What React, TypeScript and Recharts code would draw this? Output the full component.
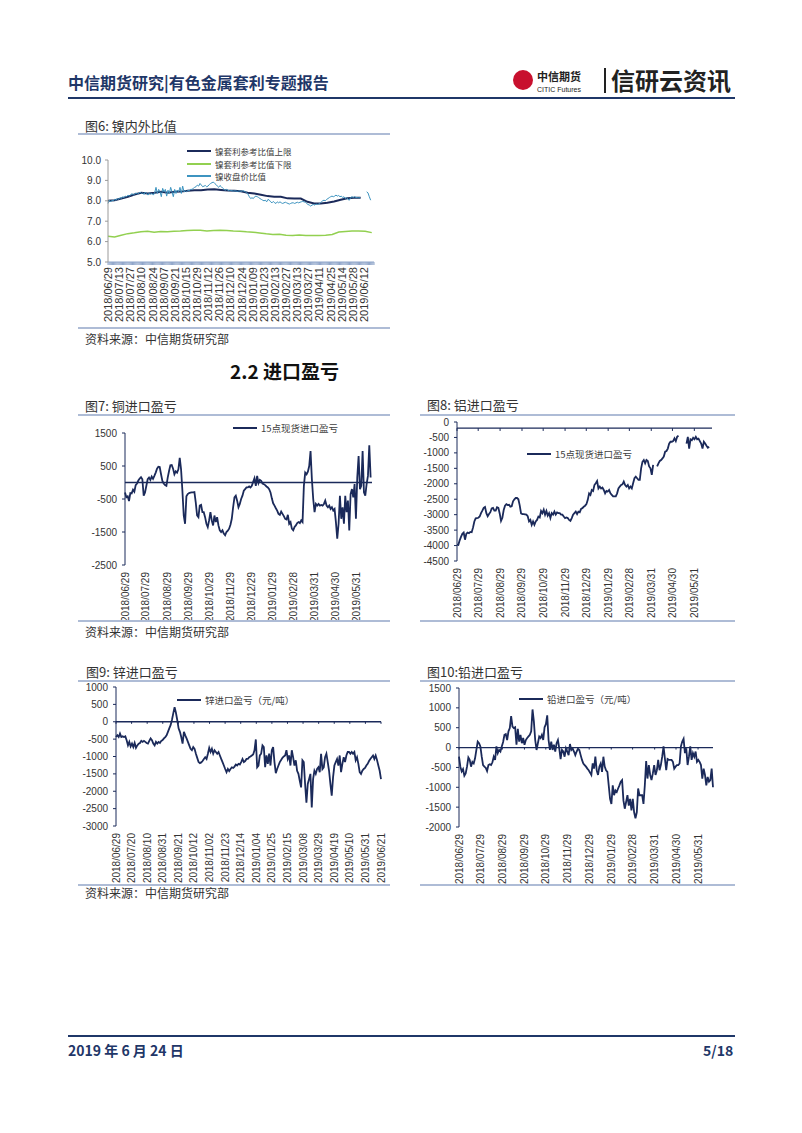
import { LineChart, Line, XAxis, YAxis, ReferenceLine } from 'recharts';

const NAVY = '#1b2a5a';
const HEAD = '#1f3768';
const TEXT = '#333333';
const RULE = '#aebcd6';
const TEAL = '#3d94c0';
const GREEN = '#92d050';
const CN = '"Noto Sans CJK SC", "Liberation Sans", sans-serif';
const NUM = '"Liberation Sans", Arial, sans-serif';

// tick labels
const MONTH_TICKS = ['2018/06/29', '2018/07/29', '2018/08/29', '2018/09/29', '2018/10/29', '2018/11/29', '2018/12/29', '2019/01/29', '2019/02/28', '2019/03/31', '2019/04/30', '2019/05/31'];
const ZN_TICKS = ['2018/06/29', '2018/07/20', '2018/08/10', '2018/08/31', '2018/09/21', '2018/10/12', '2018/11/02', '2018/11/23', '2018/12/14', '2019/01/04', '2019/01/25', '2019/02/15', '2019/03/08', '2019/03/29', '2019/04/19', '2019/05/10', '2019/05/31', '2019/06/21'];
const NI_TICKS = ['2018/06/29', '2018/07/13', '2018/07/27', '2018/08/10', '2018/08/24', '2018/09/07', '2018/09/21', '2018/10/15', '2018/10/29', '2018/11/12', '2018/11/26', '2018/12/10', '2018/12/24', '2019/01/09', '2019/01/23', '2019/02/13', '2019/02/27', '2019/03/13', '2019/03/27', '2019/04/11', '2019/04/25', '2019/05/14', '2019/05/28', '2019/06/12'];

// 镍: trading-day series
const NI_UP = [8.0, 8.03, 8.11, 8.2, 8.31, 8.39, 8.36, 8.39, 8.44, 8.4, 8.44, 8.45, 8.49, 8.52, 8.52, 8.55, 8.56, 8.53, 8.5, 8.49, 8.47, 8.4, 8.36, 8.3, 8.23, 8.2, 8.2, 8.12, 8.11, 8.11, 7.95, 7.87, 7.87, 7.9, 7.97, 8.05, 8.12, 8.15, 8.15];
const NI_LO = [6.26, 6.23, 6.31, 6.39, 6.43, 6.48, 6.51, 6.46, 6.49, 6.48, 6.51, 6.52, 6.54, 6.56, 6.56, 6.52, 6.54, 6.56, 6.54, 6.52, 6.51, 6.48, 6.46, 6.42, 6.38, 6.35, 6.36, 6.31, 6.3, 6.32, 6.3, 6.3, 6.3, 6.31, 6.35, 6.47, 6.5, 6.52, 6.52, 6.51, 6.44];
const NI_CLOSE: (number | null)[] = [
  7.87, 8.03, 7.95, 8.03, 8.0, 8.07, 8.03, 8.11, 8.07, 8.16,
  8.11, 8.2, 8.15, 8.23, 8.2, 8.28, 8.23, 8.28, 8.36, 8.28,
  8.33, 8.39, 8.33, 8.36, 8.43, 8.36, 8.39, 8.31, 8.43, 8.36,
  8.28, 8.39, 8.33, 8.36, 8.28, 8.39, 8.66, 8.36, 8.56, 8.44,
  8.2, 8.61, 8.44, 8.56, 8.23, 8.52, 8.36, 8.66, 8.44, 8.2,
  8.56, 8.36, 8.52, 8.44, 8.66, 8.36, 8.72, 8.44, 8.49, 8.44,
  8.52, 8.49, 8.56, 8.56, 8.61, 8.66, 8.69, 8.77, 8.72, 8.85,
  8.77, 8.69, 8.72, 8.75, 8.69, 8.72, 8.8, 8.85, 8.89, 8.92,
  8.85, 8.8, 8.72, 8.66, 8.75, 8.69, 8.62, 8.56, 8.52, 8.56,
  8.52, 8.49, 8.51, 8.49, 8.48, 8.49, 8.48, 8.46, 8.48, 8.49,
  8.46, 8.49, 8.48, 8.44, 8.39, 8.33, 8.2, 8.11, 8.15, 8.11,
  8.2, 8.23, 8.2, 8.16, 8.11, 8.07, 8.03, 8.0, 8.03, 7.95,
  8.07, 8.03, 7.95, 7.9, 7.97, 7.9, 7.87, 7.95, 7.9, 7.95,
  7.9, 7.87, 7.9, 7.93, 7.9, 7.87, 7.84, 7.87, 7.9, 7.9,
  7.87, 7.9, 7.93, 7.9, 7.93, 7.95, 7.97, 7.95, 7.93, 7.87,
  7.82, 7.79, 7.74, 7.79, 7.82, 7.79, 7.84, 7.82, 7.84, 7.87,
  7.95, 8.0, 8.03, 8.0, 8.07, 8.11, 8.16, 8.2, 8.23, 8.2,
  8.23, 8.28, 8.23, 8.26, 8.2, 8.23, 8.16, 8.2, 8.11, 8.16,
  8.07, 8.03, 8.16, 8.2, 8.16, 8.2, 8.16, 8.16, 8.15, 8.15,
  null, null, null, null, 8.44, 8.39, 8.2, 8.03,
];
// trading-day index of last observation / axis end
const NI_UP_END = 227;
const NI_LO_END = 237;
const NI_CLOSE_END = 236;
const NI_AXIS_END = 239;

// 铜 15点现货进口盈亏
const CU = [
  -300, -450, -420, -560, -320, -330, -220, -280, -80, -30,
  60, 120, 160, 100, -400, -300, -100, 100, 150, 80,
  180, 110, 200, 300, 420, 480, 470, 250, 50, -30,
  -80, -100, 150, 350, 520, 530, 420, 250, 340, 300,
  400, 750, 400, -250, -1000, -1250, -420, -350, -320, -310,
  -300, -300, -290, -600, -1000, -1050, -700, -680, -900, -900,
  -1050, -1250, -1350, -1150, -900, -1150, -1300, -1000, -1200, -1050,
  -1300, -1450, -1500, -1450, -1550, -1600, -1500, -1460, -1400, -1280,
  -1100, -750, -450, -400, -550, -750, -650, -500, -400, -250,
  -200, -150, -150, -120, -150, -100, 20, 130, -100, 200,
  -20, 80, 50, -30, -50, -80, -120, -150, -200, -300,
  -480, -630, -700, -780, -850, -950, -980, -880, -950, -1020,
  -1100, -1120, -980, -1250, -1200, -1400, -1450, -1350, -1300, -1230,
  -1200, -1230, -1150, -1200, -100, 300, 250, 330, 500, 950,
  100, -500, -900, -650, -700, -650, -700, -680, -700, -650,
  -550, -700, -750, -700, -800, -750, -850, -800, -1200, -1700,
  -1250, -400, -1100, -750, -1250, -400, -900, -550, -1450, -350,
  -200, -450, -50, -1100, 150, 800, -200, -100, 950, -300,
  -400, -50, 200, 1130, 150,
];

// 铝 15点现货进口盈亏
const AL: (number | null)[] = [
  -3970, -3980, -3830, -3720, -3620, -3580, -3810, -3620, -3580, -3600,
  -3560, -3570, -3420, -3220, -3120, -3110, -3100, -3060, -2950, -2870,
  -2780, -2750, -2950, -3050, -2980, -2920, -2800, -2780, -2870, -2870,
  -2760, -2780, -2960, -3200, -3100, -2850, -2710, -2660, -2690, -2680,
  -2740, -2730, -2570, -2500, -2460, -2460, -2500, -2700, -2960, -2980,
  -2980, -2990, -3000, -3050, -3220, -3170, -3330, -3220, -3330, -3220,
  -3170, -3060, -3090, -2880, -2950, -2840, -3000, -2880, -3030, -2950,
  -3110, -2950, -3000, -2900, -3000, -2930, -2950, -2950, -3000, -3000,
  -3060, -3110, -3090, -3110, -3170, -3200, -3110, -3000, -2950, -2900,
  -2980, -2900, -2920, -2810, -2790, -2740, -2710, -2660, -2520, -2310,
  -2360, -2200, -2230, -2040, -1980, -1910, -2150, -2090, -2150, -2120,
  -2200, -2310, -2230, -2250, -2200, -2310, -2360, -2410, -2410, -2410,
  -2310, -2150, -2090, -2040, -2020, -1930, -2040, -2090, -2040, -2150,
  -2090, -2150, -1980, -1820, -1770, -1820, -1870, -1870, -1500, -1290,
  -1230, -1340, -1230, -1260, -1440, -1500, -1710, -1390, null, null,
  -1440, -1340, -1260, -1230, -1180, -1120, -960, -940, -860, -700,
  -640, -640, -620, -530, -620, -480, -440, null, null, null,
  null, null, -700, -480, -860, -560, -590, -510, -560, -480,
  -560, -540, -620, -700, -860, -640, -700, -770, -830, -800,
];
const AL_CROSS = -200;

// 锌进口盈亏（元/吨）
const ZN = [
  -440, -390, -440, -340, -440, -420, -440, -420, -530, -680,
  -580, -710, -630, -730, -610, -750, -680, -630, -610, -550,
  -580, -550, -580, -610, -630, -550, -480, -530, -630, -680,
  -580, -630, -580, -610, -550, -530, -480, -440, -390, -290,
  -190, -100, 50, 240, 420, 260, 50, -190, -290, -440,
  -630, -290, -390, -480, -580, -680, -780, -820, -730, -780,
  -920, -1040, -1160, -1190, -1170, -1130, -1070, -1020, -1070, -920,
  -750, -870, -780, -920, -820, -870, -920, -870, -970, -1070,
  -1160, -1260, -1360, -1450, -1360, -1420, -1360, -1310, -1330, -1290,
  -1230, -1260, -1210, -1230, -1160, -1070, -1160, -1130, -1070, -1070,
  -1020, -1000, -970, -940, -820, -510, -1310, -1260, -970, -920,
  -680, -730, -1310, -970, -1210, -920, -1260, -820, -730, -1160,
  -1480, -1360, -1260, -1160, -1100, -1040, -1000, -970, -820, -1070,
  -970, -1260, -820, -1020, -1260, -1110, -1410, -1500, -1700, -1890,
  -1110, -1160, -1790, -2330, -1790, -1650, -1500, -2470, -1650, -1410,
  -1500, -1360, -1310, -1450, -920, -1360, -1310, -1020, -920, -1160,
  -1410, -1790, -2130, -1600, -1260, -1160, -1070, -1260, -970, -1450,
  -1210, -1020, -1160, -970, -870, -870, -920, -870, -920, -870,
  -1110, -1020, -1210, -1450, -1500, -1410, -1360, -1330, -1260, -1210,
  -1130, -1070, -1020, -970, -1070, -970, -1100, -1260, -1410, -1650,
];

// 铅进口盈亏（元/吨）
const PB = [
  -230, -480, -600, -540, -710, -650, -480, -250, -310, -480,
  -360, -400, -270, -60, 150, 110, 30, -230, -440, -480,
  -510, -590, -440, -420, -440, -370, -230, -310, 30, -140,
  -60, -100, 30, 140, 320, 340, 190, 410, 490, 790,
  530, 490, 510, 70, 470, 150, 320, 110, 240, 70,
  190, 240, 280, 320, 410, 960, 660, 190, -60, 110,
  280, 240, 320, 190, 510, 590, 810, 190, -60, 150,
  -60, 70, -100, 110, 190, -20, -290, -60, -100, -230,
  -20, -100, -190, 90, -60, -20, -100, -190, -100, -30,
  -60, -190, -310, -400, -440, -480, -530, -570, -630, -690,
  -400, -530, -230, -570, -690, -480, -400, -610, -230, -480,
  -570, -610, -950, -1290, -1420, -950, -1200, -1080, -1120, -1030,
  -950, -860, -820, -1330, -1540, -1370, -1200, -1460, -1290, -1580,
  -1290, -1630, -1780, -1630, -1030, -1200, -1200, -1200, -1420, -950,
  -340, -780, -440, -690, -820, -650, -440, -690, -570, -310,
  -570, -440, -230, 30, -270, -570, -290, -310, -310, -310,
  -360, -530, -480, -440, -440, -400, 30, 150, 220, -140,
  -20, -440, -230, 30, -310, -140, -230, -100, -360, -310,
  -360, -440, -780, -530, -690, -950, -740, -860, -820, -530,
  -1000,
];

const toDay = (s: string) => (Date.parse(s.replace(/\//g, '-')) - Date.parse('2018-06-29')) / 86400000;

function spread(values: (number | null)[], x0: number, x1: number) {
  const step = (x1 - x0) / (values.length - 1);
  return values.map((v, i) => ({ x: x0 + i * step, v }));
}

const cuData = spread(CU, 0, toDay('2019/06/20'));
const alData = spread(AL, 0, toDay('2019/06/21'));
const znData = spread(ZN, 0, toDay('2019/06/21'));
const pbData = spread(PB, 0, toDay('2019/06/21'));
const niUp = spread(NI_UP, 0, NI_UP_END);
const niLo = spread(NI_LO, 0, NI_LO_END);
const niClose = spread(NI_CLOSE, 0, NI_CLOSE_END);

const monthDays = MONTH_TICKS.map(toDay);
const znDays = ZN_TICKS.map(toDay);
const niIdx = Array.from({ length: NI_AXIS_END + 1 }, (_, i) => i);

function RotTick(props: any) {
  const { x, y, payload, labelOf, fontSize } = props;
  const label = labelOf(payload.value);
  if (!label) return null;
  return (
    <text
      x={x}
      y={y}
      transform={`rotate(-90 ${x} ${y})`}
      textAnchor="end"
      dominantBaseline="central"
      fontSize={fontSize}
      fill={TEXT}
      fontFamily={NUM}
    >
      {label}
    </text>
  );
}

const monthLabel = (v: number) => MONTH_TICKS[monthDays.indexOf(v)] ?? '';
const znLabel = (v: number) => ZN_TICKS[znDays.indexOf(v)] ?? '';
const niLabel = (v: number) => (v % 10 === 0 ? NI_TICKS[v / 10] ?? '' : '');

// small tick marks on the crossing line
function crossTicks(days: number[], y0: number, len: number) {
  return days.map(d => (
    <ReferenceLine key={`t${d}`} segment={[{ x: d, y: y0 }, { x: d, y: y0 - len }]} stroke={NAVY} strokeWidth={1} />
  ));
}

function Txt({ x, y, size, children, color = TEXT, bold = false, style = {} }: any) {
  return (
    <div
      style={{
        position: 'absolute',
        left: x,
        top: y - size / 2,
        fontSize: size,
        lineHeight: `${size}px`,
        whiteSpace: 'nowrap',
        color,
        fontWeight: bold ? 700 : 400,
        fontFamily: CN,
        ...style,
      }}
    >
      {children}
    </div>
  );
}

function Rule({ x, y, w, h = 2, color = RULE }: any) {
  return <div style={{ position: 'absolute', left: x, top: y, width: w, height: h, background: color }} />;
}

function LegendItem({ x, y, color, label, width = 2, size = 9.5 }: any) {
  return (
    <div style={{ position: 'absolute', left: x, top: y - 5, height: 10, display: 'flex', alignItems: 'center', whiteSpace: 'nowrap' }}>
      <span style={{ display: 'inline-block', width: 24, height: width, background: color, marginRight: 4 }} />
      <span style={{ fontSize: size, color: '#404040', fontFamily: CN, lineHeight: '10px', height: 10 }}>{label}</span>
    </div>
  );
}

const yTick = { fontSize: 10, fill: TEXT, fontFamily: NUM };

export default function App() {
  return (
    <div style={{ position: 'absolute', left: 0, top: 0, width: 802, height: 1133, background: '#fff', fontFamily: CN }}>
      {/* header */}
      <Txt x={68} y={82} size={16} color={HEAD} bold>中信期货研究|有色金属套利专题报告</Txt>
      <div style={{ position: 'absolute', left: 513, top: 70, width: 20, height: 20, borderRadius: 10, background: '#c8102e' }} />
      <Txt x={537} y={76} size={11} color="#222" bold>中信期货</Txt>
      <Txt x={537} y={89} size={7} color="#222" style={{ fontFamily: NUM }}>CITIC Futures</Txt>
      <Rule x={604} y={68} w={1.5} h={25} color="#222" />
      <Txt x={611} y={80} size={24} color="#222" bold>信研云资讯</Txt>
      <Rule x={68} y={97} w={667} h={2} color={HEAD} />

      {/* 图6 */}
      <Txt x={85} y={125} size={13}>图6: 镍内外比值</Txt>
      <Rule x={78} y={133} w={312} />
      <div style={{ position: 'absolute', left: 60, top: 140 }}>
        <LineChart width={330} height={200} margin={{ top: 20, right: 16, bottom: 13, left: 0 }}>
          <XAxis
            type="number"
            dataKey="x"
            domain={[0, NI_AXIS_END]}
            ticks={niIdx}
            interval={0}
            axisLine={{ stroke: '#8fa5c9' }}
            tickLine={{ stroke: '#8fa5c9' }}
            tickSize={3}
            tickMargin={2}
            height={65}
            tick={<RotTick labelOf={niLabel} fontSize={11} />}
          />
          <YAxis
            type="number"
            domain={[5, 10]}
            ticks={[5, 6, 7, 8, 9, 10]}
            interval={0}
            width={48}
            tickFormatter={(v: number) => v.toFixed(1)}
            axisLine={{ stroke: '#9a9a9a' }}
            tickLine={{ stroke: '#9a9a9a' }}
            tickSize={3}
            tickMargin={4}
            tick={yTick}
          />
          <Line data={niUp} dataKey="v" stroke={NAVY} strokeWidth={2} dot={false} isAnimationActive={false} />
          <Line data={niLo} dataKey="v" stroke={GREEN} strokeWidth={1.5} dot={false} isAnimationActive={false} />
          <Line data={niClose} dataKey="v" stroke={TEAL} strokeWidth={1} dot={false} isAnimationActive={false} connectNulls={false} />
        </LineChart>
      </div>
      <LegendItem x={187} y={151} color={NAVY} label="镍套利参考比值上限" size={8.5} />
      <LegendItem x={187} y={163.5} color={GREEN} label="镍套利参考比值下限" size={8.5} />
      <LegendItem x={187} y={176} color={TEAL} label="镍收盘价比值" size={8.5} />
      <Rule x={78} y={327} w={312} />
      <Txt x={85} y={339} size={12}>资料来源：中信期货研究部</Txt>

      <Txt x={230} y={370} size={19} color="#111" bold>2.2 进口盈亏</Txt>

      {/* 图7 */}
      <Txt x={85} y={405} size={13}>图7: 铜进口盈亏</Txt>
      <Rule x={78} y={414} w={312} />
      <div style={{ position: 'absolute', left: 60, top: 415 }}>
        <LineChart width={330} height={215} margin={{ top: 18, right: 18, bottom: 5, left: 0 }}>
          <XAxis
            type="number"
            dataKey="x"
            domain={[0, toDay('2019/06/22')]}
            ticks={monthDays}
            interval={0}
            axisLine={false}
            tickLine={false}
            tickSize={0}
            tickMargin={7}
            height={60}
            tick={<RotTick labelOf={monthLabel} fontSize={10} />}
          />
          <YAxis
            type="number"
            domain={[-2500, 1500]}
            ticks={[-2500, -1500, -500, 500, 1500]}
            interval={0}
            width={65}
            axisLine={{ stroke: NAVY }}
            tickLine={{ stroke: NAVY }}
            tickSize={3}
            tickMargin={5}
            tick={yTick}
          />
          <ReferenceLine y={0} stroke={NAVY} strokeWidth={1.3} />
          <Line data={cuData} dataKey="v" stroke={NAVY} strokeWidth={1.8} dot={false} isAnimationActive={false} />
        </LineChart>
      </div>
      <LegendItem x={233} y={428} color={NAVY} label="15点现货进口盈亏" />

      {/* 图8 */}
      <Txt x={427} y={404} size={13}>图8: 铝进口盈亏</Txt>
      <Rule x={420} y={414} w={315} />
      <div style={{ position: 'absolute', left: 395, top: 405 }}>
        <LineChart width={330} height={225} margin={{ top: 17, right: 13, bottom: 7, left: 0 }}>
          <XAxis
            type="number"
            dataKey="x"
            domain={[0, toDay('2019/06/25')]}
            ticks={monthDays}
            interval={0}
            axisLine={false}
            tickLine={false}
            tickSize={0}
            tickMargin={7}
            height={62}
            tick={<RotTick labelOf={monthLabel} fontSize={10} />}
          />
          <YAxis
            type="number"
            domain={[-4500, 0]}
            ticks={[-4500, -4000, -3500, -3000, -2500, -2000, -1500, -1000, -500, 0]}
            interval={0}
            width={62}
            axisLine={{ stroke: NAVY }}
            tickLine={{ stroke: NAVY }}
            tickSize={3}
            tickMargin={5}
            tick={yTick}
          />
          <ReferenceLine y={AL_CROSS} stroke={NAVY} strokeWidth={1.3} />
          {crossTicks(monthDays, AL_CROSS, 90)}
          <Line data={alData} dataKey="v" stroke={NAVY} strokeWidth={1.8} dot={false} isAnimationActive={false} connectNulls={false} />
        </LineChart>
      </div>
      <LegendItem x={527} y={454} color={NAVY} label="15点现货进口盈亏" />

      <Rule x={78} y={620} w={312} />
      <Rule x={420} y={620} w={315} />
      <Txt x={85} y={632} size={12}>资料来源：中信期货研究部</Txt>

      {/* 图9 */}
      <Txt x={86} y={671} size={13}>图9: 锌进口盈亏</Txt>
      <Rule x={78} y={680} w={312} />
      <div style={{ position: 'absolute', left: 60, top: 672 }}>
        <LineChart width={330} height={218} margin={{ top: 15, right: 9, bottom: 9, left: 0 }}>
          <XAxis
            type="number"
            dataKey="x"
            domain={[0, toDay('2019/06/21')]}
            ticks={znDays}
            interval={0}
            axisLine={false}
            tickLine={false}
            tickSize={0}
            tickMargin={7}
            height={55}
            tick={<RotTick labelOf={znLabel} fontSize={10} />}
          />
          <YAxis
            type="number"
            domain={[-3000, 1000]}
            ticks={[-3000, -2500, -2000, -1500, -1000, -500, 0, 500, 1000]}
            interval={0}
            width={56}
            axisLine={{ stroke: NAVY }}
            tickLine={{ stroke: NAVY }}
            tickSize={3}
            tickMargin={5}
            tick={yTick}
          />
          <ReferenceLine y={0} stroke={NAVY} strokeWidth={1.3} />
          {crossTicks(znDays, 0, 60)}
          <Line data={znData} dataKey="v" stroke={NAVY} strokeWidth={1.8} dot={false} isAnimationActive={false} />
        </LineChart>
      </div>
      <LegendItem x={177} y={700} color={NAVY} label="锌进口盈亏（元/吨）" />

      {/* 图10 */}
      <Txt x={427} y={671} size={13}>图10:铅进口盈亏</Txt>
      <Rule x={420} y={680} w={315} />
      <div style={{ position: 'absolute', left: 395, top: 672 }}>
        <LineChart width={330} height={218} margin={{ top: 16, right: 12, bottom: 8, left: 0 }}>
          <XAxis
            type="number"
            dataKey="x"
            domain={[0, toDay('2019/06/21')]}
            ticks={monthDays}
            interval={0}
            axisLine={false}
            tickLine={false}
            tickSize={0}
            tickMargin={7}
            height={55}
            tick={<RotTick labelOf={monthLabel} fontSize={10} />}
          />
          <YAxis
            type="number"
            domain={[-2000, 1500]}
            ticks={[-2000, -1500, -1000, -500, 0, 500, 1000, 1500]}
            interval={0}
            width={64}
            axisLine={{ stroke: NAVY }}
            tickLine={{ stroke: NAVY }}
            tickSize={3}
            tickMargin={5}
            tick={yTick}
          />
          <ReferenceLine y={0} stroke={NAVY} strokeWidth={1.3} />
          {crossTicks(monthDays, 0, 50)}
          <Line data={pbData} dataKey="v" stroke={NAVY} strokeWidth={1.8} dot={false} isAnimationActive={false} />
        </LineChart>
      </div>
      <LegendItem x={519} y={699} color={NAVY} label="铅进口盈亏（元/吨）" />

      <Rule x={78} y={884} w={312} />
      <Rule x={420} y={884} w={315} />
      <Txt x={85} y={893} size={12}>资料来源：中信期货研究部</Txt>

      {/* footer */}
      <Rule x={68} y={1035} w={667} h={2} color={HEAD} />
      <Txt x={68} y={1050} size={14} color={HEAD} bold>2019 年 6 月 24 日</Txt>
      <Txt x={703} y={1050} size={14} color={HEAD} bold>5/18</Txt>
    </div>
  );
}
